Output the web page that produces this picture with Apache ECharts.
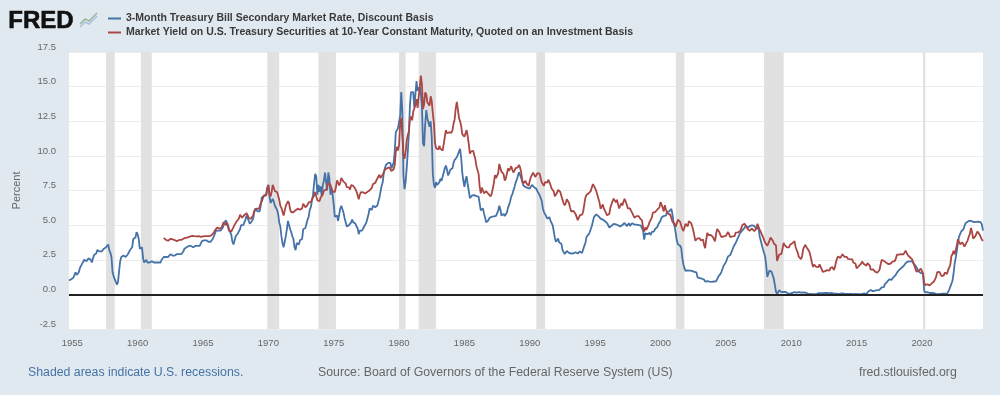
<!DOCTYPE html>
<html><head><meta charset="utf-8">
<style>html,body{margin:0;padding:0;background:#e1e9f0}#c{width:1000px;height:395px}</style>
<script src="https://cdn.jsdelivr.net/npm/echarts@6/dist/echarts.min.js"></script>
</head><body><div id="c"></div>
<script>
const billName = '3-Month Treasury Bill Secondary Market Rate, Discount Basis';
const yieldName = 'Market Yield on U.S. Treasury Securities at 10-Year Constant Maturity, Quoted on an Investment Basis';
const billStart = 1954 + 9 / 12;
const yieldStart = 1962;
const billRate = [
1.0,1.0,1.1,
1.2,1.2,1.3,1.6,1.4,1.4,1.6,1.9,2.0,2.2,2.3,2.5,
2.45,2.4,2.3,2.6,2.6,2.5,2.3,2.6,2.85,2.9,2.95,3.2,
3.1,3.1,3.1,3.1,3.0,3.3,3.2,3.4,3.5,3.6,3.2,3.0,
2.7,1.6,1.3,1.2,0.9,0.7,0.9,1.7,2.4,2.7,2.8,2.8,
2.8,2.7,2.8,2.9,2.9,3.2,3.2,3.4,4.0,4.0,4.1,4.5,
4.35,4.0,3.3,3.2,3.4,2.6,2.3,2.3,2.5,2.3,2.3,2.3,
2.2,2.4,2.4,2.3,2.3,2.3,2.2,2.3,2.3,2.3,2.5,2.6,
2.7,2.7,2.7,2.7,2.7,2.7,2.9,2.8,2.8,2.7,2.8,2.9,
2.9,2.9,2.9,2.9,2.9,3.0,3.1,3.3,3.4,3.4,3.5,3.5,
3.5,3.5,3.5,3.4,3.5,3.5,3.4,3.5,3.5,3.5,3.6,3.85,
3.8,3.9,3.9,3.9,3.9,3.8,3.8,3.8,3.9,4.0,4.1,4.4,
4.6,4.7,4.6,4.6,4.6,4.5,4.8,5.0,5.2,5.35,5.3,5.0,
4.7,4.5,4.3,3.8,3.6,3.5,4.2,4.3,4.4,4.5,4.7,5.0,
5.0,5.0,5.2,5.4,5.7,5.5,5.3,5.1,5.2,5.3,5.45,5.9,
6.2,6.2,6.0,6.1,6.0,6.4,7.0,7.0,7.1,7.0,7.2,7.7,
7.9,7.1,6.6,6.5,6.9,6.7,6.4,6.4,6.1,5.8,5.2,4.9,
4.2,3.7,3.4,3.8,4.2,4.7,5.3,5.0,4.7,4.5,4.2,4.0,
3.4,3.2,3.7,3.7,3.6,3.9,4.0,4.0,4.7,4.7,4.8,5.1,
5.4,5.6,6.1,6.3,6.4,7.2,8.0,8.7,8.5,7.2,7.9,7.4,
7.8,7.1,7.9,8.2,8.8,8.1,7.5,8.8,8.4,7.2,7.6,7.2,
6.5,5.6,5.5,5.7,5.3,5.2,6.2,6.4,6.4,5.9,5.5,5.5,
4.9,4.9,5.0,4.9,5.2,5.4,5.2,5.1,5.1,4.9,4.75,4.35,
4.6,4.66,4.6,4.5,4.9,5.0,5.2,5.5,5.8,6.2,6.1,6.1,
6.4,6.5,6.3,6.3,6.4,6.7,7.0,7.0,7.85,8.1,8.8,9.1,
9.35,9.3,9.5,9.5,9.5,9.1,9.2,9.5,10.3,11.7,11.8,12.0,
12.0,12.9,14.6,13.2,8.6,7.6,8.1,9.1,10.3,11.6,13.7,14.6,
14.7,14.6,13.5,13.6,15.4,14.7,14.8,15.0,14.5,13.5,10.9,10.7,
12.3,13.3,12.7,12.7,12.1,12.5,11.35,8.7,7.9,7.7,8.1,7.9,
7.8,8.1,8.35,8.2,8.2,8.8,9.1,9.3,9.0,8.6,8.75,9.0,
8.9,9.1,9.5,9.7,9.8,9.9,10.1,10.1,10.5,9.9,8.8,8.2,
7.76,8.27,8.52,7.95,7.48,6.95,7.08,7.14,7.1,7.16,7.24,7.1,
7.07,7.06,6.56,6.06,6.15,6.21,5.83,5.53,5.21,5.18,5.35,5.53,
5.43,5.59,5.59,5.64,5.66,5.67,5.69,6.04,6.4,6.13,5.69,5.77,
5.81,5.66,5.7,5.91,6.26,6.46,6.73,7.06,7.24,7.35,7.76,8.07,
8.27,8.53,8.82,8.65,8.43,8.15,7.88,7.9,7.75,7.64,7.69,7.63,
7.64,7.74,7.9,7.77,7.74,7.73,7.62,7.45,7.36,7.17,7.06,6.74,
6.22,5.94,5.91,5.65,5.46,5.57,5.58,5.33,5.22,4.99,4.56,4.07,
3.8,3.84,4.04,3.75,3.63,3.66,3.21,3.13,2.91,2.86,3.13,3.22,
3.0,2.93,2.95,2.87,2.96,3.07,3.04,3.02,2.95,3.02,3.1,3.06,
2.98,3.25,3.5,3.68,4.14,4.14,4.33,4.48,4.62,4.95,5.29,5.6,
5.71,5.77,5.73,5.65,5.67,5.47,5.42,5.4,5.28,5.28,5.36,5.14,
5.0,4.83,4.96,4.95,5.02,5.09,5.15,5.05,5.09,4.99,5.03,4.91,
5.03,5.01,5.14,5.16,5.05,4.93,5.05,5.14,4.95,4.97,5.14,5.16,
5.04,5.09,5.03,4.95,5.0,4.98,4.96,4.9,4.61,3.96,4.41,4.39,
4.34,4.44,4.44,4.29,4.5,4.57,4.55,4.72,4.68,4.86,5.07,5.2,
5.32,5.55,5.69,5.66,5.79,5.69,5.96,6.09,6.0,6.11,6.17,5.77,
5.15,4.88,4.42,3.87,3.62,3.49,3.51,3.36,2.64,2.16,1.87,1.69,
1.65,1.73,1.79,1.72,1.73,1.7,1.68,1.62,1.63,1.58,1.23,1.19,
1.17,1.17,1.13,1.13,1.07,0.92,0.9,0.95,0.94,0.92,0.93,0.9,
0.88,0.93,0.94,0.94,1.02,1.27,1.33,1.48,1.65,1.76,2.07,2.19,
2.33,2.54,2.74,2.78,2.84,2.97,3.22,3.44,3.42,3.71,3.88,3.89,
4.24,4.43,4.51,4.6,4.72,4.79,4.95,4.96,4.81,4.92,4.94,4.85,
4.98,5.03,4.94,4.87,4.73,4.61,4.82,4.2,3.89,3.9,3.27,3.0,
2.75,2.12,1.26,1.29,1.73,1.86,1.63,1.72,1.13,0.67,0.19,0.03,
0.13,0.3,0.22,0.16,0.18,0.18,0.18,0.17,0.12,0.07,0.05,0.05,
0.06,0.11,0.15,0.16,0.16,0.12,0.16,0.16,0.15,0.13,0.14,0.14,
0.15,0.13,0.1,0.06,0.04,0.04,0.04,0.02,0.01,0.02,0.01,0.01,
0.03,0.09,0.08,0.08,0.09,0.09,0.1,0.1,0.11,0.1,0.09,0.07,
0.07,0.1,0.09,0.06,0.04,0.05,0.04,0.04,0.02,0.05,0.07,0.07,
0.04,0.05,0.05,0.04,0.03,0.03,0.03,0.03,0.02,0.02,0.02,0.03,
0.03,0.02,0.03,0.02,0.02,0.02,0.03,0.07,0.02,0.02,0.13,0.23,
0.26,0.31,0.29,0.23,0.27,0.27,0.3,0.3,0.29,0.33,0.45,0.51,
0.51,0.52,0.74,0.79,0.9,1.0,1.09,1.03,1.05,1.09,1.25,1.34,
1.41,1.57,1.7,1.76,1.86,1.9,1.96,2.03,2.13,2.25,2.33,2.37,
2.37,2.39,2.4,2.38,2.35,2.17,2.1,1.95,1.89,1.65,1.54,1.54,
1.52,1.52,0.29,0.14,0.13,0.16,0.13,0.1,0.11,0.1,0.09,0.09,
0.08,0.04,0.03,0.02,0.02,0.04,0.05,0.05,0.04,0.05,0.05,0.04,
0.15,0.33,0.44,0.76,0.98,1.49,2.23,2.63,3.13,3.72,4.15,4.25,
4.54,4.65,4.69,4.92,5.14,5.16,5.25,5.3,5.32,5.34,5.27,5.24,
5.22,5.24,5.24,5.24,5.25,5.24,5.2,5.05,4.6
];
const yieldRate = [
4.08,4.04,3.93,3.84,3.87,3.91,4.01,3.98,3.98,3.93,3.92,3.86,
3.83,3.92,3.93,3.97,3.93,3.99,4.02,4.0,4.08,4.11,4.12,4.13,
4.17,4.15,4.22,4.23,4.2,4.17,4.19,4.19,4.2,4.19,4.15,4.18,
4.19,4.21,4.21,4.2,4.21,4.21,4.2,4.25,4.29,4.35,4.45,4.62,
4.61,4.83,4.87,4.75,4.78,4.81,5.02,5.22,5.18,5.01,5.16,4.84,
4.58,4.63,4.54,4.59,4.85,5.02,5.16,5.28,5.3,5.48,5.75,5.7,
5.53,5.56,5.74,5.64,5.87,5.72,5.5,5.42,5.46,5.58,5.7,6.03,
6.04,6.19,6.3,6.17,6.32,6.57,6.72,6.69,7.16,7.1,7.14,7.65,
7.9,7.24,7.07,7.39,7.91,7.84,7.46,7.53,7.39,7.33,6.84,6.39,
6.24,6.11,5.7,5.83,6.39,6.52,6.73,6.58,6.14,5.93,5.81,5.93,
5.95,6.08,6.07,6.19,6.13,6.11,6.11,6.21,6.55,6.48,6.28,6.36,
6.46,6.64,6.71,6.67,6.85,6.9,7.13,7.4,7.09,6.79,6.73,6.74,
6.99,6.96,7.21,7.51,7.58,7.54,7.81,8.04,8.04,7.9,7.68,7.43,
7.5,7.39,7.73,8.23,8.06,7.86,8.06,8.4,8.43,8.14,8.05,8.0,
7.74,7.79,7.73,7.56,7.9,7.86,7.83,7.77,7.59,7.41,7.29,6.87,
7.21,7.39,7.46,7.37,7.46,7.28,7.33,7.4,7.34,7.52,7.58,7.69,
7.96,8.03,8.04,8.15,8.35,8.46,8.64,8.41,8.42,8.64,8.81,9.01,
9.1,9.1,9.12,9.18,9.25,8.91,8.95,9.03,9.33,10.3,10.65,10.39,
10.8,12.41,12.75,11.47,10.18,9.78,10.25,11.1,11.51,11.75,12.68,12.84,
12.57,13.19,13.12,13.68,14.1,13.47,14.28,14.94,15.8,15.15,13.39,13.72,
14.59,14.43,13.86,13.87,13.62,14.3,13.95,13.06,12.34,10.91,10.55,10.54,
10.46,10.72,10.51,10.4,10.38,10.85,11.38,11.85,11.65,11.54,11.69,11.83,
11.67,11.84,12.32,12.63,13.41,13.9,13.36,12.72,12.52,12.16,11.57,11.5,
11.38,11.51,11.86,11.43,10.85,10.16,10.31,10.33,10.37,10.24,9.78,9.26,
9.19,8.7,7.78,7.3,7.71,7.8,7.3,7.17,7.45,7.43,7.25,7.11,
7.08,7.25,7.25,8.02,8.61,8.4,8.45,8.76,9.42,9.52,8.86,8.99,
8.67,8.21,8.37,8.72,9.09,8.92,9.06,9.26,8.98,8.8,8.96,9.11,
9.09,9.17,9.36,9.18,8.86,8.28,8.02,8.11,8.19,8.01,7.87,7.84,
8.21,8.47,8.59,8.79,8.76,8.48,8.47,8.75,8.89,8.72,8.39,8.08,
8.09,7.85,8.11,8.04,8.07,8.28,8.27,7.9,7.65,7.53,7.42,7.09,
7.03,7.34,7.54,7.48,7.39,7.26,6.84,6.59,6.42,6.59,6.87,6.77,
6.6,6.26,5.98,5.97,6.04,5.96,5.81,5.68,5.36,5.33,5.72,5.77,
5.75,5.97,6.48,6.97,7.18,7.1,7.3,7.24,7.46,7.74,7.96,7.81,
7.78,7.47,7.2,7.06,6.63,6.17,6.28,6.49,6.2,6.04,5.93,5.71,
5.65,5.81,6.27,6.51,6.74,6.91,6.87,6.64,6.83,6.53,6.2,6.3,
6.58,6.42,6.69,6.89,6.71,6.49,6.22,6.3,6.21,6.03,5.88,5.81,
5.54,5.57,5.65,5.64,5.65,5.5,5.46,5.34,4.81,4.53,4.83,4.65,
4.72,5.0,5.23,5.18,5.54,5.9,5.79,5.94,5.92,6.11,6.03,6.28,
6.66,6.52,6.26,5.99,6.44,6.1,6.05,5.83,5.8,5.74,5.72,5.24,
5.16,5.1,4.89,5.14,5.39,5.28,5.24,4.97,4.73,4.57,4.65,5.09,
5.04,4.91,5.28,5.21,5.16,4.93,4.65,4.26,3.87,3.94,4.05,4.03,
4.05,3.9,3.81,3.96,3.57,3.33,3.98,4.45,4.27,4.29,4.3,4.27,
4.15,4.08,3.83,4.35,4.72,4.73,4.5,4.28,4.13,4.1,4.19,4.23,
4.22,4.17,4.5,4.34,4.14,4.0,4.18,4.26,4.2,4.46,4.54,4.47,
4.42,4.57,4.72,4.99,5.11,5.11,5.09,4.88,4.72,4.73,4.6,4.56,
4.76,4.72,4.56,4.69,4.75,5.1,5.0,4.67,4.52,4.53,4.15,4.1,
3.74,3.74,3.51,3.68,3.88,4.1,4.01,3.89,3.69,3.81,3.53,2.42,
2.52,2.87,2.82,2.93,3.29,3.72,3.56,3.59,3.4,3.39,3.4,3.59,
3.73,3.69,3.73,3.85,3.42,3.2,3.01,2.7,2.65,2.54,2.76,3.29,
3.39,3.58,3.41,3.46,3.17,3.0,3.0,2.3,1.98,2.15,2.01,1.98,
1.97,1.97,2.17,2.05,1.8,1.62,1.53,1.68,1.72,1.75,1.65,1.72,
1.91,1.98,1.96,1.76,1.93,2.3,2.58,2.74,2.81,2.62,2.72,2.9,
2.86,2.71,2.72,2.71,2.56,2.6,2.54,2.42,2.53,2.3,2.33,2.21,
1.88,1.98,2.04,1.94,2.2,2.36,2.32,2.17,2.17,2.07,2.26,2.24,
2.09,1.78,1.89,1.81,1.81,1.64,1.5,1.56,1.63,1.76,2.14,2.49,
2.43,2.42,2.48,2.3,2.3,2.19,2.32,2.21,2.2,2.36,2.35,2.4,
2.58,2.86,2.84,2.87,2.98,2.91,2.89,2.89,3.0,3.15,3.12,2.83,
2.71,2.68,2.57,2.53,2.4,2.07,2.06,1.63,1.7,1.71,1.81,1.86,
1.76,1.5,0.87,0.66,0.67,0.73,0.62,0.65,0.68,0.79,0.87,0.93,
1.08,1.26,1.61,1.64,1.62,1.52,1.32,1.28,1.37,1.58,1.56,1.47,
1.76,1.93,2.13,2.75,2.9,3.14,2.9,2.9,3.52,3.98,3.89,3.62,
3.53,3.75,3.66,3.46,3.57,3.75,3.9,4.17,4.38,4.8,4.5,4.02,
4.06,4.21,4.21,4.54,4.48,4.31,4.25,3.95,3.85
];
const recessionStarts = [1957.58,1960.25,1969.92,1973.83,1980.0,1981.5,1990.5,2001.17,2007.92,2020.08];
const recessionEnds   = [1958.25,1961.08,1970.83,1975.17,1980.5,1982.83,1991.17,2001.83,2009.42,2020.25];
const yearTicks = [1955,1960,1965,1970,1975,1980,1985,1990,1995,2000,2005,2010,2015,2020];
const xMin = 1954.75, xMax = 2024.67;

const toPoints = (start, vals) => vals.map((v, i) => [start + i / 12, v]);
const logoLine = [[0,14],[5,9],[9,11],[17,3]];
const chart = echarts.init(document.getElementById('c'), null, {renderer: 'canvas'});
const FONT = '"Liberation Sans", Arial, sans-serif';
chart.setOption({
  animation: false,
  backgroundColor: '#e1e9f0',
  textStyle: {fontFamily: FONT},
  grid: {left: 69, right: 17, top: 52, bottom: 66, show: true, backgroundColor: '#fff', borderWidth: 0},
  legend: {
    left: 108, top: 13, padding: 0, orient: 'vertical', itemGap: 3, itemWidth: 13, itemHeight: 2, icon: 'rect',
    selectedMode: false,
    textStyle: {fontFamily: FONT, fontSize: 10.5, fontWeight: 'bold', color: '#3a3a3a', lineHeight: 10}
  },
  xAxis: {
    type: 'value', min: xMin, max: xMax,
    splitLine: {show: false}, axisLine: {show: false}, axisTick: {show: false},
    axisLabel: {customValues: yearTicks, color: '#666', fontSize: 9.5, margin: 9, showMinLabel: true, showMaxLabel: true, formatter: v => String(v)}
  },
  yAxis: {
    type: 'value', min: -2.5, max: 17.5, interval: 2.5,
    name: 'Percent', nameLocation: 'middle', nameGap: 47, nameRotate: 90,
    nameTextStyle: {color: '#666', fontSize: 11},
    splitLine: {lineStyle: {color: '#ececec', width: 1}},
    axisLine: {show: false}, axisTick: {show: false},
    axisLabel: {color: '#666', fontSize: 9.5, margin: 13, verticalAlign: 'bottom', formatter: v => v.toFixed(1)}
  },
  series: [
    {
      name: billName, type: 'line', showSymbol: false, z: 3,
      data: toPoints(billStart, billRate),
      lineStyle: {color: '#4572a7', width: 1.8}, itemStyle: {color: '#4572a7'},
      markArea: {
        silent: true, itemStyle: {color: '#e1e1e1'},
        data: recessionStarts.map((s, i) => [{xAxis: s}, {xAxis: recessionEnds[i]}])
      },
      markLine: {
        silent: true, symbol: 'none', label: {show: false}, z: 10,
        lineStyle: {color: '#222', width: 2, type: 'solid'},
        data: [{yAxis: 0}]
      }
    },
    {
      name: yieldName, type: 'line', showSymbol: false, z: 4,
      data: toPoints(yieldStart, yieldRate),
      lineStyle: {color: '#aa4643', width: 1.8}, itemStyle: {color: '#aa4643'}
    }
  ],
  graphic: [
    {type: 'text', left: 8, top: 9, style: {text: 'FRED', font: 'bold 24px ' + FONT, fill: '#111', stroke: '#111', lineWidth: 0.6}},
    {type: 'polyline', x: 80, y: 10, silent: true, shape: {points: logoLine}, style: {stroke: '#9ab8a0', lineWidth: 1.5, fill: 'none'}},
    {type: 'polyline', x: 80, y: 13, silent: true, shape: {points: logoLine}, style: {stroke: '#a9c0d6', lineWidth: 1.5, fill: 'none'}},
    {type: 'text', left: 28, top: 367, style: {text: 'Shaded areas indicate U.S. recessions.', font: '12.3px ' + FONT, fill: '#4572a7'}},
    {type: 'text', left: 318, top: 367, style: {text: 'Source: Board of Governors of the Federal Reserve System (US)', font: '12.3px ' + FONT, fill: '#666'}},
    {type: 'text', left: 859, top: 367, style: {text: 'fred.stlouisfed.org', font: '12.3px ' + FONT, fill: '#666'}}
  ]
});
</script></body></html>
